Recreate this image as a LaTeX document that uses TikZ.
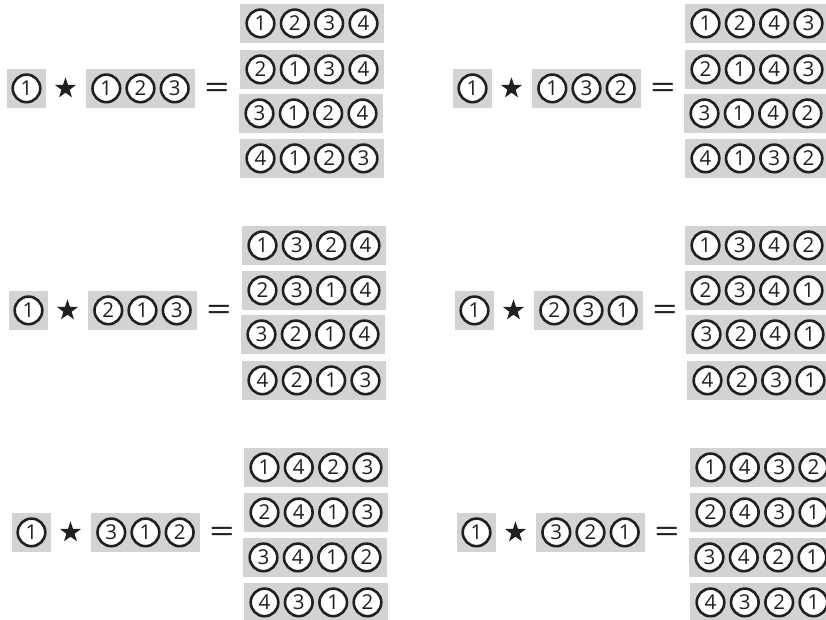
\documentclass[tikz,border=0pt]{standalone}
\usepackage{fontspec}
\setmainfont{Open Sans}
\usetikzlibrary{shapes.geometric}
\definecolor{boxgray}{HTML}{D1D3D4}
\definecolor{ink}{HTML}{231F20}
\tikzset{
  graybox/.style={fill=boxgray, draw=none, minimum height=38.7pt, inner sep=0pt},
  ball/.style={circle, draw=ink, fill=white, line width=2.6pt, minimum size=27.6pt, inner sep=0pt,
    text=ink, font=\fontsize{20.5}{20.5}\selectfont},
  starsym/.style={star, star points=5, star point ratio=2.55, fill=ink, draw=none, minimum size=22pt, inner sep=0pt},
  eqsym/.style={text=ink, inner sep=0pt, font=\fontsize{40}{40}\selectfont}
}
% row of four balls: name, x, y, four digits
\newcommand\fourrow[7]{%
  \node[graybox, minimum width=144pt] (#1) at (#2,#3) {};
  \node[ball] (#1-1) at ([xshift=-51.5pt]#1.center) {#4};
  \node[ball] (#1-2) at ([xshift=-17.2pt]#1.center) {#5};
  \node[ball] (#1-3) at ([xshift=17.2pt]#1.center) {#6};
  \node[ball] (#1-4) at ([xshift=51.5pt]#1.center) {#7};
}
% left side: name, X0, Yc, three digits
\newcommand\lhs[6]{%
  \node[graybox, minimum width=39pt] (#1-a) at (#2+19.5,#3) {};
  \node[ball] (#1-a1) at (#1-a.center) {1};
  \node[starsym] (#1-star) at (#2+58.5,#3) {};
  \node[graybox, minimum width=109pt] (#1-b) at (#2+133.5,#3) {};
  \node[ball] (#1-b1) at ([xshift=-34.2pt]#1-b.center) {#4};
  \node[ball] (#1-b2) at (#1-b.center) {#5};
  \node[ball] (#1-b3) at ([xshift=34.2pt]#1-b.center) {#6};
  \node[eqsym] (#1-eq) at (#2+210,#3+3) {\scalebox{1.1}[0.78]{=}};
}
\begin{document}
\begin{tikzpicture}[x=1pt, y=-1pt]
\useasboundingbox (0,0) rectangle (826,620);
\clip (0,0) rectangle (826,620);
% group 1
\lhs{g1}{7}{88.4}{1}{2}{3}
\fourrow{g1-r1}{312}{23.4}{1}{2}{3}{4}
\fourrow{g1-r2}{312}{69.4}{2}{1}{3}{4}
\fourrow{g1-r3}{311}{113.4}{3}{1}{2}{4}
\fourrow{g1-r4}{312}{158.4}{4}{1}{2}{3}
% group 2
\lhs{g2}{453}{88.4}{1}{3}{2}
\fourrow{g2-r1}{757}{23.4}{1}{2}{4}{3}
\fourrow{g2-r2}{757}{69.4}{2}{1}{4}{3}
\fourrow{g2-r3}{756}{113.4}{3}{1}{4}{2}
\fourrow{g2-r4}{757}{158.4}{4}{1}{3}{2}
% group 3
\lhs{g3}{9}{310.4}{2}{1}{3}
\fourrow{g3-r1}{314}{245.4}{1}{3}{2}{4}
\fourrow{g3-r2}{314}{290.4}{2}{3}{1}{4}
\fourrow{g3-r3}{313}{334.4}{3}{2}{1}{4}
\fourrow{g3-r4}{314}{380.4}{4}{2}{1}{3}
% group 4
\lhs{g4}{455}{310.4}{2}{3}{1}
\fourrow{g4-r1}{757}{245.4}{1}{3}{4}{2}
\fourrow{g4-r2}{757}{290.4}{2}{3}{4}{1}
\fourrow{g4-r3}{758}{334.4}{3}{2}{4}{1}
\fourrow{g4-r4}{759}{380.4}{4}{2}{3}{1}
% group 5
\lhs{g5}{12}{532.4}{3}{1}{2}
\fourrow{g5-r1}{316}{467.4}{1}{4}{2}{3}
\fourrow{g5-r2}{316}{512.4}{2}{4}{1}{3}
\fourrow{g5-r3}{315}{557.4}{3}{4}{1}{2}
\fourrow{g5-r4}{316}{602.4}{4}{3}{1}{2}
% group 6
\lhs{g6}{457}{532.4}{3}{2}{1}
\fourrow{g6-r1}{762}{467.4}{1}{4}{3}{2}
\fourrow{g6-r2}{762}{512.4}{2}{4}{3}{1}
\fourrow{g6-r3}{761}{557.4}{3}{4}{2}{1}
\fourrow{g6-r4}{762}{602.4}{4}{3}{2}{1}
\end{tikzpicture}
\end{document}
